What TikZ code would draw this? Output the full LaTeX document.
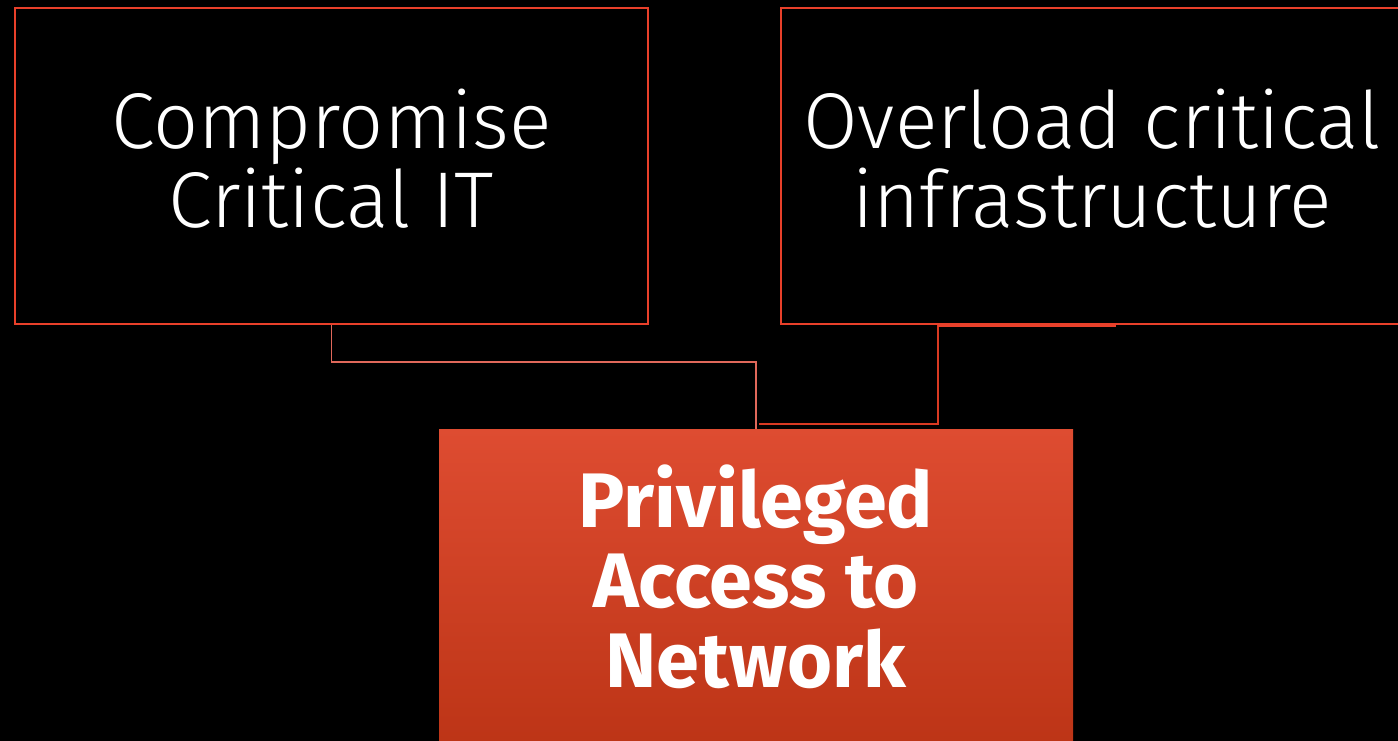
\documentclass[tikz,border=0pt]{standalone}
\usepackage{fontspec}
\setmainfont{Fira Sans}[UprightFont=* Light, BoldFont=* Bold]
\usetikzlibrary{positioning}

\definecolor{boxline}{HTML}{E8402A}
\definecolor{linkA}{HTML}{E0685A}
\definecolor{linkB}{HTML}{D83A22}
\definecolor{privtop}{HTML}{DE4C31}
\definecolor{privbot}{HTML}{BC3416}

\tikzset{
  goal/.style={draw=boxline, line width=1.1pt, text=white, align=center,
    font=\fontsize{45}{45}\selectfont, minimum height=6.32cm},
  access/.style={top color=privtop, bottom color=privbot, text=white, align=center,
    font=\fontsize{44}{45.5}\selectfont\bfseries, minimum width=12.68cm, minimum height=6.4cm},
  link/.style={line width=1.1pt}
}

\begin{document}
\begin{tikzpicture}
    \fill[black] (0,0) rectangle (27.96,14.82);
    \useasboundingbox (0,0) rectangle (27.96,14.82);

    % top level
    \node[goal, minimum width=12.66cm] (crit) at (6.63,11.5) {Compromise\\Critical IT\rule[-0.32cm]{0pt}{0pt}};
    \node[goal, minimum width=12.44cm, right=2.62cm of crit] (overload) {Overload critical\\infrastructure\rule[-0.32cm]{0pt}{0pt}};

    % bottom level
    \node[access, below=2.08cm of crit.south, xshift=8.49cm] (priv) {Privileged\\Access to\\Network\rule[-0.52cm]{0pt}{0pt}};

    % links
    \coordinate (ojoin) at ([xshift=3.16cm]overload.south west);
    \coordinate (oend) at ([xshift=6.72cm]overload.south west);
    \coordinate (pjoin) at ([xshift=0.06cm, yshift=0.1cm]priv.north);
    \draw[link, linkA] (crit.south) -- ++(0,-0.74) -| (priv.north);
    \draw[link, linkB] (ojoin) |- (pjoin);
    \draw[boxline, line width=2.2pt] (ojoin) -- (oend);
\end{tikzpicture}
\end{document}
